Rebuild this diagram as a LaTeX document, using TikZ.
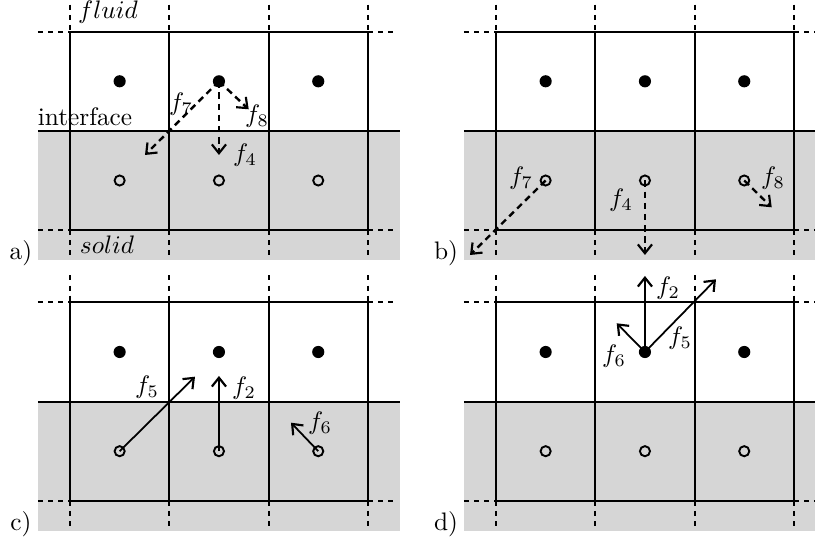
\documentclass[tikz,border=0pt]{standalone}
\usetikzlibrary{arrows.meta}
\definecolor{solidgray}{RGB}{214,214,214}
\tikzset{
  gridline/.style={line width=0.8pt},
  griddash/.style={line width=0.8pt, dash pattern=on 2pt off 2pt},
  fdot/.style={circle, fill=black, inner sep=0pt, minimum size=4.8pt},
  odot/.style={circle, draw=black, line width=0.75pt, inner sep=0pt, minimum size=4pt},
  flux/.style={line width=0.7pt, -{Straight Barb[length=3.5pt,width=5.6pt,line width=0.85pt]}},
  dflux/.style={flux, line width=0.95pt, dash pattern=on 2.6pt off 1.8pt},
  lbl/.style={inner sep=0pt},
  lattice/.pic={
    \fill[solidgray] (-32,99.2) rectangle (330,228.3);
    \foreach \i in {0,1,2,3} {
      \draw[gridline] (\i*99.3,0) -- (\i*99.3,198.4);
      \draw[griddash] (\i*99.3,-27) -- (\i*99.3,0);
      \draw[griddash] (\i*99.3,198.4) -- (\i*99.3,228.3);
    }
    \draw[gridline] (0,0) -- (297.9,0);
    \draw[gridline] (-32,99.2) -- (330,99.2);
    \draw[gridline] (0,198.4) -- (297.9,198.4);
    \foreach \y in {0,198.4} {
      \draw[griddash] (-32,\y) -- (0,\y);
      \draw[griddash] (297.9,\y) -- (327,\y);
    }
    \node[fdot] (f1) at (49.65,49.6) {};
    \node[fdot] (f2) at (148.95,49.6) {};
    \node[fdot] (f3) at (248.25,49.6) {};
    \node[odot] (s1) at (49.65,148.8) {};
    \node[odot] (s2) at (148.95,148.8) {};
    \node[odot] (s3) at (248.25,148.8) {};
  }
}
\begin{document}
\begin{tikzpicture}[x=0.395pt,y=-0.395pt]
\clip (0,0) rectangle (815,542);
\pic (a-) at (70,31.7) {lattice};
\pic (b-) at (496,31.7) {lattice};
\pic (c-) at (70,302.4) {lattice};
\pic (d-) at (496,302.4) {lattice};

% panel a
\begin{scope}[shift={(70,31.7)}]
  \coordinate (a7) at (75,123.3);
  \coordinate (a8) at (178.7,77.6);
  \coordinate (a4) at (148.95,123.3);
  \draw[dflux] (a-f2.center) -- (a7);
  \draw[dflux] (a-f2.center) -- (a8);
  \draw[dflux] (a-f2.center) -- (a4);
  \node[lbl] (la7) at (111,72.3) {$f_7$};
  \node[lbl] (la8) at (187,84.3) {$f_8$};
  \node[lbl] (la4) at (175,123.3) {$f_4$};
  \node[lbl] (tfluid) at (38,-19.5) {$fluid$};
  \node[lbl] (tint) at (15,84.6) {interface};
  \node[lbl] (tsolid) at (37,213.3) {$solid$};
\end{scope}

% panel b
\begin{scope}[shift={(496,31.7)}]
  \coordinate (b7) at (-26,223.3);
  \coordinate (b4) at (148.95,223.3);
  \coordinate (b8) at (275.7,175.6);
  \draw[dflux] (b-s1.center) -- (b7);
  \draw[dflux] (b-s2.center) -- (b4);
  \draw[dflux] (b-s3.center) -- (b8);
  \node[lbl] (lb7) at (25,146.3) {$f_7$};
  \node[lbl] (lb4) at (125,168.3) {$f_4$};
  \node[lbl] (lb8) at (277,146.3) {$f_8$};
\end{scope}

% panel c
\begin{scope}[shift={(70,302.4)}]
  \coordinate (c5) at (125,74.3);
  \coordinate (c2) at (148.95,73.6);
  \coordinate (c6) at (221,120.3);
  \draw[flux] (c-s1.center) -- (c5);
  \draw[flux] (c-s2.center) -- (c2);
  \draw[flux] (c-s3.center) -- (c6);
  \node[lbl] (lc5) at (77,84.6) {$f_5$};
  \node[lbl] (lc2) at (174,85.6) {$f_2$};
  \node[lbl] (lc6) at (250,120.6) {$f_6$};
\end{scope}

% panel d
\begin{scope}[shift={(496,302.4)}]
  \coordinate (d2) at (148.95,-26.4);
  \coordinate (d5) at (220,-23.1);
  \coordinate (d6) at (120.7,20.9);
  \draw[flux] (d-f2.center) -- (d2);
  \draw[flux] (d-f2.center) -- (d5);
  \draw[flux] (d-f2.center) -- (d6);
  \node[lbl] (ld2) at (172,-14.4) {$f_2$};
  \node[lbl] (ld5) at (184,35.6) {$f_5$};
  \node[lbl] (ld6) at (118,53.6) {$f_6$};
\end{scope}

\node[lbl] (pa) at (21,253) {a)};
\node[lbl] (pb) at (446,253) {b)};
\node[lbl] (pc) at (21,524) {c)};
\node[lbl] (pd) at (446,524) {d)};
\end{tikzpicture}
\end{document}
